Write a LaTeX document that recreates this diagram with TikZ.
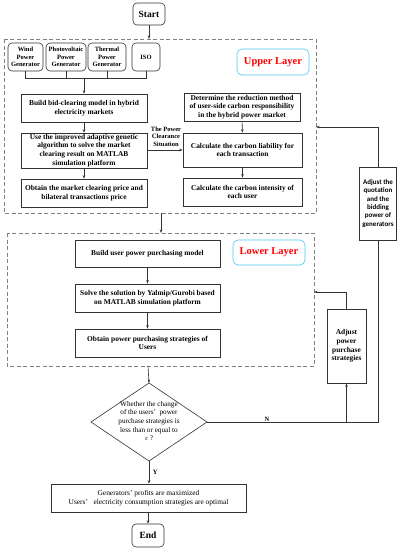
\documentclass[tikz,border=0pt]{standalone}
\usepackage{fontspec}
\setmainfont{Liberation Serif}
\newfontfamily\calib{Carlito}
\usetikzlibrary{arrows.meta,positioning,calc}
\begin{document}
\begin{tikzpicture}[x=1pt,y=-1pt,
  line width=0.6pt,
  every node/.style={inner sep=0.5pt},
  fs/.style={font=\bfseries\fontsize{7.4}{8.6}\selectfont},
  box/.style={draw=black!80, fill=white, align=center, fs},
  genbox/.style={box, rounded corners=4pt, minimum height=28pt, font=\bfseries\fontsize{6.5}{7.4}\selectfont},
  term/.style={box, rounded corners=4pt, font=\bfseries\fontsize{9.5}{10}\selectfont},
  layerlbl/.style={draw=cyan!70, rounded corners=5pt, text=red, font=\bfseries\fontsize{10.5}{11}\selectfont},
  layer/.style={draw=black!50, dashed, dash pattern=on 4pt off 2.5pt, line width=0.7pt},
  conn/.style={draw=black!80},
  arr/.style={conn, -{Stealth[length=3.5pt,width=2.5pt]}},
  lbl/.style={font=\bfseries\fontsize{6.5}{7.3}\selectfont}
]
\useasboundingbox (0,0) rectangle (402,550);

% layers
\draw[layer] (4,39) rectangle (316,213);
\draw[layer] (7,233) rectangle (314,366);
\coordinate (utop) at (149,39);
\coordinate (ubot) at (161,213);
\coordinate (ltop) at (161,233);
\coordinate (lbot) at (148,366);
\coordinate (uright) at (316,127);
\coordinate (lright) at (314,292);

\node[term, minimum width=32pt, minimum height=22pt] (start) at (149,14) {Start};

% generators
\node[genbox, minimum width=35pt] (wind) at (25.5,57) {Wind\\Power\\Generator};
\node[genbox, minimum width=40pt] (pv) at (66,57) {Photovoltaic\\Power\\Generator};
\node[genbox, minimum width=38pt] (therm) at (107,57) {Thermal\\Power\\Generator};
\node[genbox, minimum width=28pt] (iso) at (146,57) {ISO};

\node[layerlbl, minimum width=72pt, minimum height=26pt] (ulbl) at (273,62) {Upper Layer};

\node[box, minimum width=126pt, minimum height=28pt] (build) at (84,108) {Build bid-clearing model in hybrid\\electricity markets};
\node[box, minimum width=126pt, minimum height=35pt] (use) at (84,150.5) {Use the improved adaptive genetic\\algorithm to solve the market\\clearing result on MATLAB\\simulation platform};
\node[box, minimum width=126pt, minimum height=28pt] (obt) at (84,193) {Obtain the market clearing price and\\bilateral transactions price};

\node[box, minimum width=116pt, minimum height=28pt] (det) at (242,107) {Determine the reduction method\\of user-side carbon responsibility\\in the hybrid power market};
\node[box, minimum width=119pt, minimum height=34pt] (liab) at (242.5,150) {Calculate the carbon liability for\\each transaction};
\node[box, minimum width=119pt, minimum height=28pt] (inten) at (242.5,192) {Calculate the carbon intensity of\\each user};

\node[lbl, align=center] (clr) at (166,136.5) {The Power\\Clearance\\Situation};

% lower layer
\node[box, minimum width=145pt, minimum height=27pt] (bu) at (147.5,253.5) {Build user power purchasing model};
\node[layerlbl, minimum width=72pt, minimum height=25pt] (llbl) at (269,252.5) {Lower Layer};
\node[box, minimum width=145pt, minimum height=28pt] (solve) at (147.5,298) {Solve the solution by Yalmip/Gurobi based\\on MATLAB simulation platform};
\node[box, minimum width=145pt, minimum height=28pt] (ostr) at (147.5,343) {Obtain power purchasing strategies of\\Users};

% decision
\coordinate (dtop) at (149,383);
\coordinate (dbot) at (149,461);
\coordinate (dleft) at (91,422);
\coordinate (dright) at (207,422);
\draw[conn] (dtop) -- (dright) -- (dbot) -- (dleft) -- cycle;
\node[align=center, font=\fontsize{7.2}{8.6}\selectfont] (dec) at (149,421) {Whether the change\\of the users’\ \ power\\purchase strategies is\\less than or equal to\\$\varepsilon$\,?};

\node[box, font=\fontsize{7.4}{9.4}\selectfont, minimum width=195pt, minimum height=28pt] (gens) at (148.5,498) {Generators’ profits are maximized\\Users’\ \ \ electricity consumption strategies are optimal};
\node[term, minimum width=32pt, minimum height=23pt] (end) at (148,535.5) {End};

% right side
\node[box, minimum width=39pt, minimum height=74pt] (adjpp) at (346.5,346) {Adjust\\power\\purchase\\strategies};
\node[box, font=\calib\bfseries\fontsize{7}{8.4}\selectfont, minimum width=37pt, minimum height=73pt] (adjq) at (378,203.5) {Adjust the\\quotation\\and the\\bidding\\power of\\generators};
\coordinate (rc) at (378,422);
\coordinate (nc) at (346.5,422);

% connectors
\draw[arr] (start) -- (utop);
\coordinate (bus) at (84,78);
\draw[conn] (wind.south) -- (wind.south |- bus) -- (iso.south |- bus) -- (iso.south);
\draw[conn] (pv.south) -- (pv.south |- bus);
\draw[conn] (therm.south) -- (therm.south |- bus);
\draw[arr] (bus) -- (build);
\draw[arr] (build) -- (use);
\draw[arr] (use) -- (obt);
\draw[arr] (det) -- (liab);
\draw[arr] (liab) -- (inten);
\draw[arr] (use.east |- liab) -- (liab.west);
\draw[arr] (ubot) -- (ltop);
\draw[arr] (bu) -- (solve);
\draw[arr] (solve) -- (ostr);
\draw[arr] (lbot) -- (dtop);
\draw[arr] (dbot) -- node[right, lbl, xshift=3pt] {Y} (gens.north -| dbot);
\draw[arr] (gens.south -| end) -- (end);
\draw[conn] (dright) -- node[above, lbl, pos=0.35] {N} (rc) -- (adjq.south);
\draw[arr] (adjq.north) |- (uright);
\draw[arr] (nc) -- (adjpp.south);
\draw[arr] (adjpp.north) |- (lright);
\end{tikzpicture}
\end{document}
